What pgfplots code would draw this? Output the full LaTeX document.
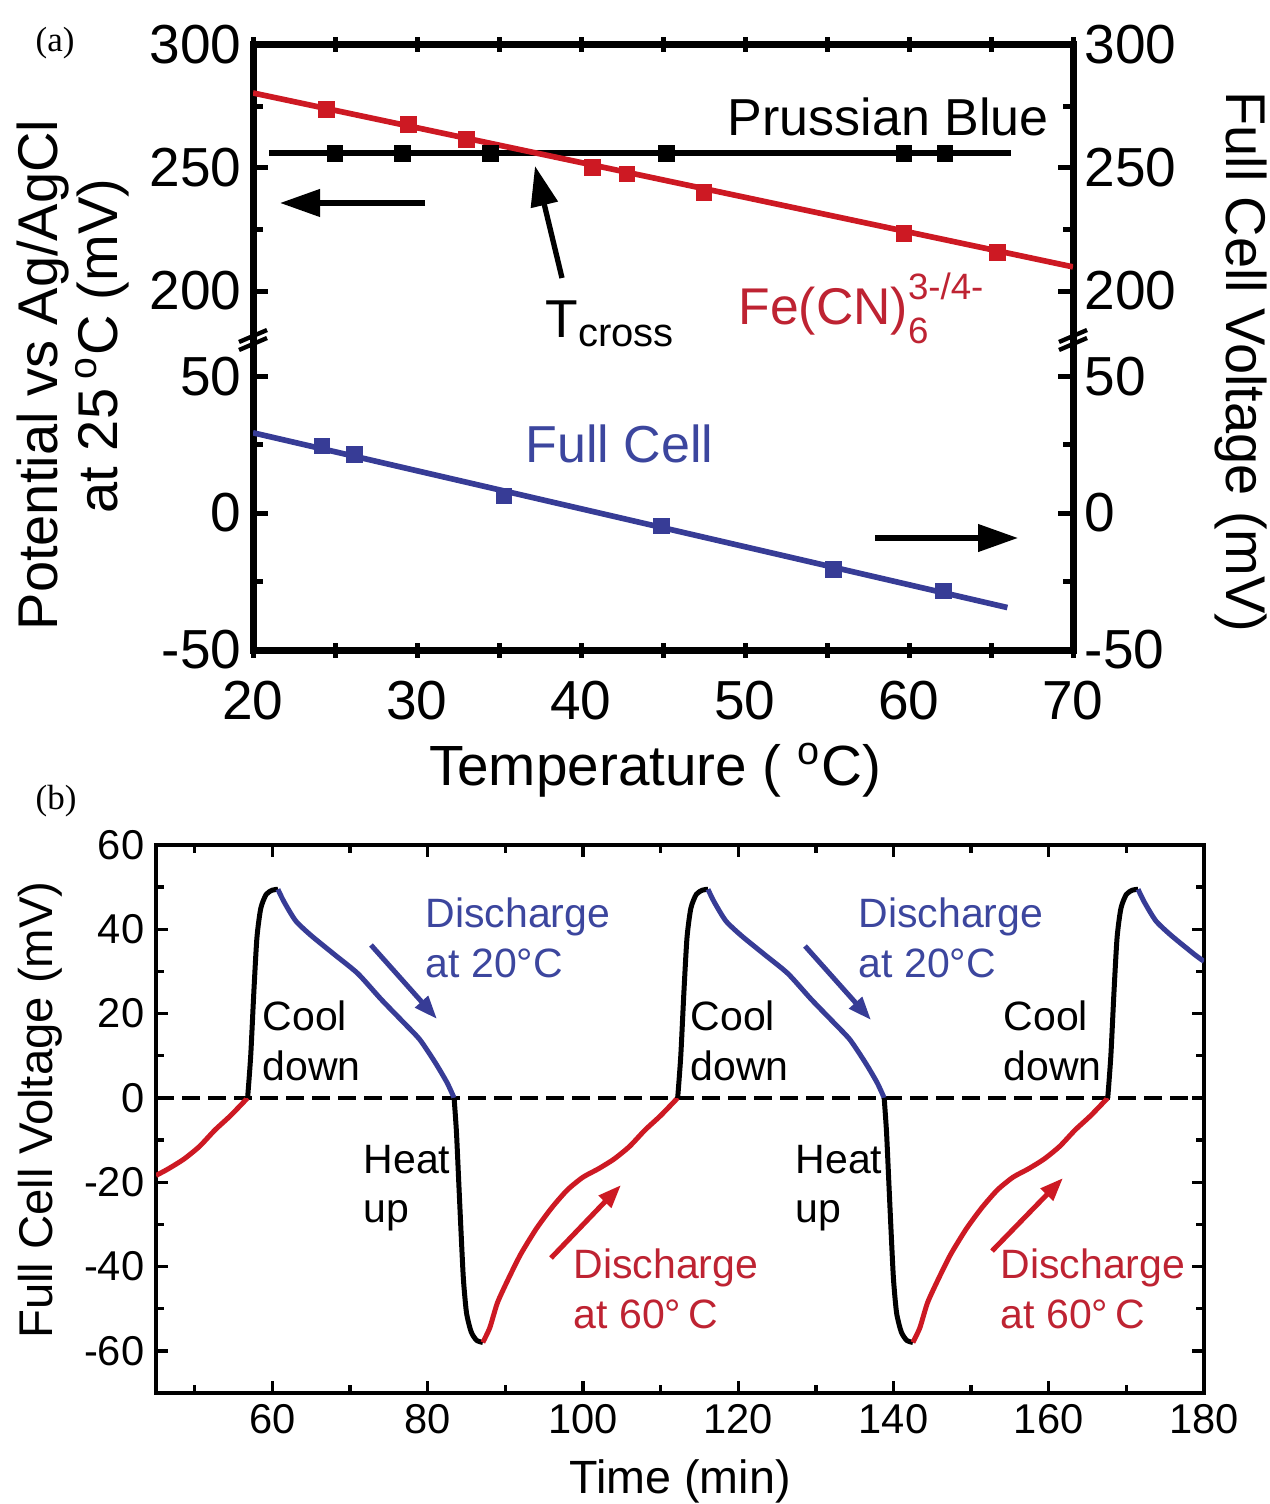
\documentclass[border=0pt]{standalone}
\usepackage{fontspec}
\setmainfont{Liberation Sans}
\newfontfamily\seriffont{Liberation Serif}
\usepackage{pgfplots}
\pgfplotsset{compat=1.18}
\usetikzlibrary{arrows.meta}

\definecolor{cred}{RGB}{205,25,35}
\definecolor{cblue}{RGB}{55,60,150}
\definecolor{tred}{RGB}{190,35,50}
\definecolor{tblue}{RGB}{60,70,158}
\newcommand{\fs}[1]{\fontsize{#1}{#1}\selectfont}

\begin{document}
\begin{tikzpicture}
\useasboundingbox (0pt,0pt) rectangle (380.7pt,-451.2pt);
\pgfplotsset{
  every non boxed x axis/.append style={x axis line style={-}},
  every non boxed y axis/.append style={y axis line style={-}},
  pa/.style={scale only axis, width=246pt, xmin=20, xmax=70, tick align=inside,
    axis line style={line width=2.1pt, line cap=rect},
    every tick/.append style={black, line width=1.5pt},
    major tick length=4.5pt, minor tick length=3pt,
    xtick={20,25,...,70}, xticklabels={20,,30,,40,,50,,60,,70},
    tick label style={font=\fs{16.5}},
    xticklabel style={yshift=-3.5pt},
    /pgf/number format/assume math mode=true},
  pb/.style={scale only axis, at={(46.8pt,-253.5pt)}, anchor=north west,
    width=314.4pt, height=164.4pt, xmin=45, xmax=180, ymin=-70, ymax=60},
  crv/.style={line width=1.5pt, line join=round, smooth, tension=0.4}
}

% ---------- panel (a), upper part ----------
\begin{axis}[pa, at={(75.9pt,-13.5pt)}, anchor=north west, height=87.9pt,
  ymin=180.9, ymax=300, ytick={200,250,300}, minor ytick={225,275},
  axis x line=top, axis y line=box, xticklabels={}]
\addplot[black, line width=1.7pt] coordinates {(21,256) (66.2,256)};
\addplot[black, only marks, mark=square*, mark size=2.3pt] coordinates {
 (25,256) (29.1,256) (34.5,256) (45.2,256) (59.7,256) (62.2,256)};
\addplot[cred, line width=1.7pt] coordinates {(20,280.5) (70,209.8)};
\addplot[cred, only marks, mark=square*, mark size=2.3pt] coordinates {
 (24.5,273.8) (29.5,267.7) (33.0,261.6) (40.7,250.2) (42.8,247.5)
 (47.5,240.1) (59.7,223.3) (65.4,215.6)};
\end{axis}
\begin{axis}[pa, at={(75.9pt,-13.5pt)}, anchor=north west, height=87.9pt,
  ymin=180.9, ymax=300, ytick={200,250,300}, minor ytick={},
  axis x line=none, axis y line=right, y axis line style={draw=none},
  major tick length=0pt, xticklabels={}]
\end{axis}

% ---------- panel (a), lower part ----------
\begin{axis}[pa, at={(75.9pt,-195pt)}, anchor=south west, height=93.6pt,
  ymin=-50, ymax=63.9, ytick={-50,0,50}, minor ytick={-25,25},
  axis x line=bottom, axis y line=box]
\addplot[cblue, line width=1.7pt] coordinates {(20,29.3) (66,-34.5)};
\addplot[cblue, only marks, mark=square*, mark size=2.3pt] coordinates {
 (24.2,24.5) (26.2,21.4) (35.3,6.2) (44.9,-4.7) (55.4,-20.5) (62.1,-28.5)};
\end{axis}
\begin{axis}[pa, at={(75.9pt,-195pt)}, anchor=south west, height=93.6pt,
  ymin=-50, ymax=63.9, ytick={-50,0,50}, minor ytick={},
  axis x line=none, axis y line=right, y axis line style={draw=none},
  major tick length=0pt, xticklabels={}]
\end{axis}

% ---------- panel (b) ----------
\begin{axis}[pb, tick align=inside,
  axis line style={line width=1.2pt},
  every tick/.append style={black, line width=1pt},
  major tick length=3.5pt, minor tick length=2.3pt,
  xtick={60,80,...,180}, minor xtick={50,70,...,170},
  ytick={-60,-40,...,60}, minor ytick={-50,-30,...,50},
  tick label style={font=\fs{12.5}},
  /pgf/number format/assume math mode=true]
\addplot[black, line width=1.2pt, dash pattern=on 5.4pt off 2.4pt] coordinates {(45,0) (180,0)};
% cycle 0 tail
\addplot[cred, crv] coordinates {
 (45,-18.4) (46.6,-16.8) (48.6,-14.5) (50.6,-11.5) (52.6,-7.6) (54.6,-4.2) (56.8,0)};
% cycle 1
\addplot[black, crv] coordinates {
 (56.8,0) (57.2,10) (57.6,25) (58.0,38) (58.5,45) (59.2,48.3) (60,49.3) (60.7,49.5)};
\addplot[cblue, crv] coordinates {
 (60.7,49.5) (61.5,46.5) (63,42) (65,38.5) (68,34) (71,29.5) (74,23.4) (77,17.7)
 (79,13.8) (81,8.3) (82.5,3.6) (83.4,0)};
\addplot[black, crv] coordinates {
 (83.4,0) (83.7,-8) (84.0,-20) (84.3,-32) (84.6,-43) (85.0,-51) (85.6,-55.5) (86.3,-57.5) (87.1,-58)};
\addplot[cred, crv] coordinates {
 (87.1,-58) (88,-54.5) (89,-48.5) (90.5,-42.5) (92,-37) (94,-31) (96,-26) (98,-21.8)
 (100,-18.8) (102,-16.8) (104,-14.5) (106,-11.5) (108,-7.6) (110,-4.2) (112.2,0)};
% cycle 2
\addplot[black, crv] coordinates {
 (112.2,0) (112.6,10) (113.0,25) (113.4,38) (113.9,45) (114.6,48.3) (115.4,49.3) (116.1,49.5)};
\addplot[cblue, crv] coordinates {
 (116.1,49.5) (116.9,46.5) (118.4,42) (120.4,38.5) (123.4,34) (126.4,29.5) (129.4,23.4)
 (132.4,17.7) (134.4,13.8) (136.4,8.3) (137.9,3.6) (138.8,0)};
\addplot[black, crv] coordinates {
 (138.8,0) (139.1,-8) (139.4,-20) (139.7,-32) (140.0,-43) (140.4,-51) (141.0,-55.5) (141.7,-57.5) (142.5,-58)};
\addplot[cred, crv] coordinates {
 (142.5,-58) (143.4,-54.5) (144.4,-48.5) (145.9,-42.5) (147.4,-37) (149.4,-31) (151.4,-26)
 (153.4,-21.8) (155.4,-18.8) (157.4,-16.8) (159.4,-14.5) (161.4,-11.5) (163.4,-7.6) (165.4,-4.2) (167.6,0)};
% cycle 3
\addplot[black, crv] coordinates {
 (167.6,0) (168.0,10) (168.4,25) (168.8,38) (169.3,45) (170.0,48.3) (170.8,49.3) (171.5,49.5)};
\addplot[cblue, crv] coordinates {
 (171.5,49.5) (172.3,46.5) (173.8,42) (175.8,38.5) (178.8,34) (180,32.4)};
\end{axis}

% ---------- annotations (pixel coordinates) ----------
\begin{scope}[x=0.3pt, y=-0.3pt, every node/.style={inner sep=0pt}]
% panel labels
\node[anchor=base west, font=\seriffont\fs{10.5}] at (35,52) {(a)};
\node[anchor=base west, font=\seriffont\fs{10.5}] at (35,809) {(b)};
% axis labels panel (a)
\node[anchor=base, rotate=90, font=\fs{16.8}] at (57,375) {Potential vs Ag/AgCl};
\node[anchor=base, rotate=90, font=\fs{16.8}] at (117,346) {at 25\,\textsuperscript{o}C (mV)};
\node[anchor=base, rotate=-90, font=\fs{16.8}] at (1226,362) {Full Cell Voltage (mV)};
\node[anchor=base, font=\fs{17}] at (655,785) {Temperature ( \textsuperscript{o}C)};
% break marks
\foreach \xx in {253,1073} {
  \draw[line width=1.3pt] (\xx-14,342) -- (\xx+14,330);
  \draw[line width=1.3pt] (\xx-14,350) -- (\xx+14,338);
}
% text in panel (a)
\node[anchor=base west, font=\fs{15.6}] at (727,136) {Prussian Blue};
\node[anchor=base west, font=\fs{15.6}, text=tblue] at (525,462) {Full Cell};
\node[anchor=base west, font=\fs{16}] at (545,338) {T\raisebox{-2.5pt}{\fs{12}cross}};
\node[anchor=base west, font=\fs{15.5}, text=tred] at (738,325)
  {Fe(CN)\rlap{\raisebox{7.5pt}{\fs{11}3-/4-}}\raisebox{-5.5pt}{\fs{11}6}};
% arrows panel (a)
\draw[line width=1.6pt, -{Triangle[length=12pt,width=8pt]}] (425,203) -- (280,203);
\draw[line width=1.6pt, -{Triangle[length=12pt,width=8pt]}] (562,278) -- (535,166);
\draw[line width=1.6pt, -{Triangle[length=12pt,width=8pt]}] (875,538) -- (1018,538);
% axis labels panel (b)
\node[anchor=base, rotate=90, font=\fs{14.2}] at (52,1110) {Full Cell Voltage (mV)};
\node[anchor=base, font=\fs{14}] at (680,1493) {Time (min)};
% text in panel (b)
\foreach \xx in {425,858} {
  \node[anchor=base west, font=\fs{12.3}, text=tblue] at (\xx,927) {Discharge};
  \node[anchor=base west, font=\fs{12.3}, text=tblue] at (\xx,977) {at 20°C};
}
\foreach \xx in {262,690,1003} {
  \node[anchor=base west, font=\fs{12.3}] at (\xx,1030) {Cool};
  \node[anchor=base west, font=\fs{12.3}] at (\xx,1080) {down};
}
\foreach \xx in {363,795} {
  \node[anchor=base west, font=\fs{12.3}] at (\xx,1173) {Heat};
  \node[anchor=base west, font=\fs{12.3}] at (\xx,1222) {up};
}
\foreach \xx in {573,1000} {
  \node[anchor=base west, font=\fs{12.3}, text=tred] at (\xx,1278) {Discharge};
  \node[anchor=base west, font=\fs{12.3}, text=tred] at (\xx,1328) {at 60°\,C};
}
% arrows panel (b)
\draw[cblue, line width=1.5pt, -{Triangle[length=7pt,width=5pt]}] (371,945) -- (437,1019);
\draw[cblue, line width=1.5pt, -{Triangle[length=7pt,width=5pt]}] (805,946) -- (871,1020);
\draw[cred, line width=1.5pt, -{Triangle[length=7pt,width=5pt]}] (551,1258) -- (621,1185);
\draw[cred, line width=1.5pt, -{Triangle[length=7pt,width=5pt]}] (992,1251) -- (1063,1178);
\end{scope}
\end{tikzpicture}
\end{document}
